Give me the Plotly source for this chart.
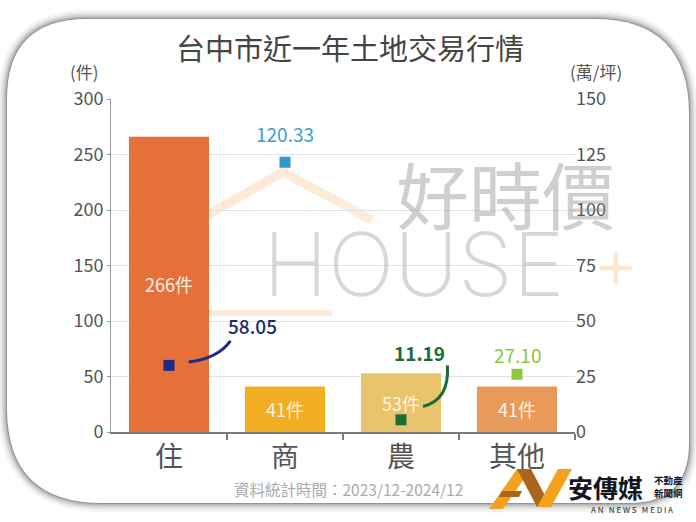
import plotly.graph_objects as go

# ---------------- data ----------------
categories = ["住", "商", "農", "其他"]
counts = [266, 41, 53, 41]                      # 件 (left axis)
count_labels = ["266件", "41件", "53件", "41件"]
prices = [58.05, 120.33, 11.19, 27.10]          # 萬/坪 (labels)
price_marker_pos = [30.0, 121.5, 5.5, 26.0]     # marker heights as drawn in picture (right axis)
bar_colors = ["#E5703A", "#F2AE22", "#EAC46C", "#E89A5A"]
price_colors = ["#1C2B85", "#2E9AD3", "#1B6B35", "#8DC63F"]
label_colors = ["#1E2A6E", "#3A9FD0", "#1B6B3A", "#8DC63F"]
left_ticks = [0, 50, 100, 150, 200, 250, 300]
right_ticks = [0, 25, 50, 75, 100, 125, 150]

FONT = "Noto Sans CJK TC"
W, H = 696, 522
L, R, T, B = 111, 575, 99, 432


def px(x):
    return (x - L) / (R - L)


def py(y):
    return (B - y) / (B - T)


def pth(points, close=True):
    s = "M " + " L ".join(f"{px(x):.5f},{py(y):.5f}" for x, y in points)
    return s + (" Z" if close else "")


xs = list(range(len(categories)))

fig = go.Figure()
fig.add_trace(go.Bar(
    x=xs, y=counts, marker=dict(color=bar_colors, line=dict(width=0)),
    width=0.69, text=count_labels, textposition="inside", insidetextanchor="middle",
    textfont=dict(color="#FFF3E6", size=18, family=FONT), yaxis="y", showlegend=False,
    hoverinfo="skip"))
fig.add_trace(go.Scatter(
    x=xs, y=price_marker_pos, mode="markers", yaxis="y2",
    marker=dict(symbol="square", size=11, color=price_colors), showlegend=False,
    hoverinfo="skip"))

# ---------------- shapes ----------------
shapes = []


def rounded_rect(x0, y0, x1, y1, rtl, rtr, rbr, rbl):
    s = f"M {px(x0 + rtl)},{py(y0)} L {px(x1 - rtr)},{py(y0)} "
    s += f"Q {px(x1)},{py(y0)} {px(x1)},{py(y0 + rtr)} "
    s += f"L {px(x1)},{py(y1 - rbr)} Q {px(x1)},{py(y1)} {px(x1 - rbr)},{py(y1)} "
    s += f"L {px(x0 + rbl)},{py(y1)} Q {px(x0)},{py(y1)} {px(x0)},{py(y1 - rbl)} "
    s += f"L {px(x0)},{py(y0 + rtl)} Q {px(x0)},{py(y0)} {px(x0 + rtl)},{py(y0)} Z"
    return s


card = (7, 19, 689, 503, 80, 95, 60, 95)
for w, a in [(18, 0.05), (13, 0.08), (9, 0.12), (5, 0.18), (2, 0.28)]:
    shapes.append(dict(type="path", xref="paper", yref="paper", layer="below",
                       path=rounded_rect(*card), line=dict(color=f"rgba(60,60,60,{a})", width=w),
                       fillcolor="rgba(0,0,0,0)"))
shapes.append(dict(type="path", xref="paper", yref="paper", layer="below",
                   path=rounded_rect(*card), line=dict(color="rgba(0,0,0,0)", width=0),
                   fillcolor="white"))

# watermark house outline
house_col = "rgba(248,196,140,0.35)"
shapes.append(dict(type="path", xref="paper", yref="paper", layer="below",
                   path=pth([(150, 248), (283, 172), (372, 220)], close=False),
                   line=dict(color=house_col, width=9)))
shapes.append(dict(type="path", xref="paper", yref="paper", layer="below",
                   path=pth([(205, 243), (205, 313), (332, 313)], close=False),
                   line=dict(color=house_col, width=6)))

# leader lines (relative to marker positions)
for i, (dx0, dy0, cx, cy, dx1, dy1) in {0: (0.17, 1.5, 0.42, 3.0, 0.53, 11.0),
                                        2: (0.19, 6.0, 0.42, 9.0, 0.40, 24.5)}.items():
    b = price_marker_pos[i]
    shapes.append(dict(type="path", xref="x", yref="y2",
                       path=f"M {i + dx0},{b + dy0} Q {i + cx},{b + cy} {i + dx1},{b + dy1}",
                       line=dict(color=price_colors[i], width=3)))

# AN logo
orange, brown = "#F2A21C", "#A8661C"
shapes.append(dict(type="path", xref="paper", yref="paper",
                   path=pth([(489, 509), (503, 509), (531, 469), (517, 469)]),
                   fillcolor=orange, line=dict(width=0)))
shapes.append(dict(type="path", xref="paper", yref="paper",
                   path=pth([(517, 469), (531, 469), (551, 507), (537, 507)]),
                   fillcolor=brown, line=dict(width=0)))
shapes.append(dict(type="path", xref="paper", yref="paper",
                   path=pth([(537, 507), (551, 507), (572, 469), (558, 469)]),
                   fillcolor=orange, line=dict(width=0)))
shapes.append(dict(type="path", xref="paper", yref="paper",
                   path=pth([(502, 491), (522, 491), (519, 497), (499, 497)]),
                   fillcolor=brown, line=dict(width=0)))

# ---------------- annotations ----------------
ann = []


def text(x, y, s, size, color, ref="paper", yref="paper", **kw):
    d = dict(x=x, y=y, xref=ref, yref=yref, text=s, showarrow=False,
             xanchor="center", yanchor="middle",
             font=dict(family=kw.pop("family", FONT), size=size, color=color,
                       weight=kw.pop("weight", 400)))
    d.update(kw)
    ann.append(d)


# watermark text
text(px(505), py(192), "好時價", 73, "rgba(140,140,140,0.42)")
text(px(414), py(264), "HOUSE", 88, "rgba(160,160,160,0.42)", family="Inter", weight=200)
text(px(616), py(262), "+", 70, "rgba(245,185,110,0.35)", family="Inter", weight=300)

text(px(350), py(47), "台中市近一年土地交易行情", 29, "#444444")
text(px(84), py(72), "(件)", 17, "#555555")
text(px(596), py(72), "(萬/坪)", 17, "#555555")

# price labels
offsets = [(0.72, 18.0), (1.0, 13.0), (2.16, 30.5), (3.0, 9.0)]
for i, (xo, yo) in enumerate(offsets):
    text(xo, price_marker_pos[i] + yo, f"{prices[i]:.2f}", 19, label_colors[i],
         ref="x", yref="y2", weight=500 if i == 0 else (600 if i == 2 else 400))

text(px(348), py(489), "資料統計時間：2023/12-2024/12", 15.5, "#AAAAAA")
text(px(605), py(487), "安傳媒", 25, "#15151F", weight=700)
text(px(668), py(480), "不動產", 9.5, "#15151F", weight=700)
text(px(668), py(493), "新聞網", 9.5, "#15151F", weight=700)
text(px(632), py(509), "A N   N E W S   M E D I A", 8, "#222222")

fig.update_layout(
    width=W, height=H, margin=dict(l=L, r=W - R, t=T, b=H - B),
    paper_bgcolor="white", plot_bgcolor="rgba(0,0,0,0)",
    shapes=shapes, annotations=ann, bargap=0.31,
    font=dict(family=FONT, color="#555555"),
    xaxis=dict(range=[-0.5, 3.5], tickvals=xs, ticktext=categories, ticks="",
               tickfont=dict(size=28, color="#555555"), showgrid=False, zeroline=False,
               showline=True, linecolor="#7A7A7A", linewidth=1.5,
               minor=dict(tickvals=[0.5, 1.5, 2.5, 3.5], ticks="outside", ticklen=6,
                          tickcolor="#7A7A7A", tickwidth=1.5, showgrid=False),
               fixedrange=True),
    yaxis=dict(range=[0, 300], tickvals=left_ticks, ticks="outside", ticklen=3,
               tickcolor="#999999", tickfont=dict(size=18, color="#555555"),
               showgrid=True, gridcolor="#DFE4EC", gridwidth=1, zeroline=False,
               showline=True, linecolor="#9A9A9A", linewidth=1, fixedrange=True),
    yaxis2=dict(range=[0, 150], tickvals=right_ticks, overlaying="y", side="right",
                showgrid=False, zeroline=False, showline=False, ticks="",
                tickfont=dict(size=18, color="#555555"), fixedrange=True),
)

fig.write_html("out.html")
